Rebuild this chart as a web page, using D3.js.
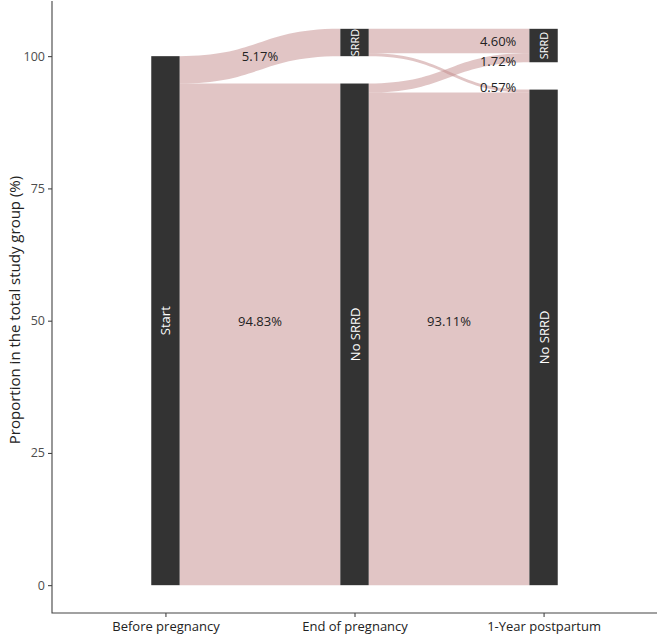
<!DOCTYPE html>
<html><head><meta charset="utf-8">
<script src="https://cdn.jsdelivr.net/npm/d3@7"></script>
<style>body{margin:0;background:#fff}svg{display:block;font-family:"Open Sans",sans-serif}</style>
</head><body><svg id="c" width="660" height="638"></svg>
<script>
// ---- data ----
const columns = ["Before pregnancy", "End of pregnancy", "1-Year postpartum"];
const strataNames = [["Start"], ["No SRRD", "SRRD"], ["No SRRD", "SRRD"]];
const strataValues = [[100], [94.83, 5.17], [93.68, 6.32]];
const stratumGap = 5.17;
const flowFromCol = [0, 0, 1, 1, 1, 1];
const flowFrom = ["Start", "Start", "No SRRD", "No SRRD", "SRRD", "SRRD"];
const flowTo = ["SRRD", "No SRRD", "No SRRD", "SRRD", "No SRRD", "SRRD"];
const flowValues = [5.17, 94.83, 93.11, 1.72, 0.57, 4.60];
const flowLabelNudge = [0, 0, 0, -0.66, 0.7, 0];
const yTicks = [0, 25, 50, 75, 100];

// ---- layout ----
const svg = d3.select("#c");
const L = 52, R = 657, B = 613, T = 1;
const x = d3.scalePoint().domain(columns).range([L, R]).padding(0.6);
const yMax = 100 + stratumGap;
const y = d3.scaleLinear().domain([-yMax * 0.05, yMax * 1.05]).range([B, T]);
const bw = x.step() * 0.15;

// stack strata
const strata = [];
strataNames.forEach((names, ci) => {
  let acc = 0;
  names.forEach((n, i) => {
    const v = strataValues[ci][i];
    strata.push({col: ci, name: n, idx: i, lo: acc, hi: acc + v, outAcc: acc, inAcc: acc});
    acc += v + stratumGap;
  });
});
const getS = (ci, n) => strata.find(s => s.col === ci && s.name === n);

const flows = flowValues.map((v, i) => ({
  v, i, src: getS(flowFromCol[i], flowFrom[i]), tgt: getS(flowFromCol[i] + 1, flowTo[i])
}));
d3.sort(flows, f => f.tgt.idx).forEach(f => { f.s0 = f.src.outAcc; f.src.outAcc += f.v; f.s1 = f.src.outAcc; });
d3.sort(flows, f => f.src.idx).forEach(f => { f.t0 = f.tgt.inAcc; f.tgt.inAcc += f.v; f.t1 = f.tgt.inAcc; });

function flowPath(f) {
  const x0 = x(columns[f.src.col]) + bw / 2, x1 = x(columns[f.tgt.col]) - bw / 2;
  const xm = (x0 + x1) / 2;
  const a0 = y(f.s1), a1 = y(f.t1), b0 = y(f.s0), b1 = y(f.t0);
  return `M${x0},${a0}C${xm},${a0} ${xm},${a1} ${x1},${a1}L${x1},${b1}C${xm},${b1} ${xm},${b0} ${x0},${b0}Z`;
}

svg.append("g").selectAll("path").data(flows).join("path")
  .attr("d", flowPath).attr("fill", "#c48b8b").attr("fill-opacity", 0.5);

svg.append("g").selectAll("rect").data(strata).join("rect")
  .attr("x", d => x(columns[d.col]) - bw / 2).attr("width", bw)
  .attr("y", d => y(d.hi)).attr("height", d => y(d.lo) - y(d.hi))
  .attr("fill", "#333333");

svg.append("g").selectAll("text").data(strata).join("text")
  .attr("transform", d => `translate(${x(columns[d.col])},${y((d.lo + d.hi) / 2)}) rotate(-90)`)
  .attr("text-anchor", "middle").attr("dominant-baseline", "central")
  .attr("fill", "#fff")
  .attr("font-size", d => (y(d.lo) - y(d.hi)) < 50 ? 11 : 13)
  .text(d => d.name);

// flow labels
svg.append("g").selectAll("text").data(flows).join("text")
  .each(function(f) {
    const t = d3.select(this);
    const xs = x(columns[f.src.col]) + bw / 2, xt = x(columns[f.tgt.col]) - bw / 2;
    if (f.v > 50) {
      t.attr("x", (xs + xt) / 2).attr("y", y(50)).attr("text-anchor", "middle");
    } else if (f.src.col === 0) {
      t.attr("x", (xs + xt) / 2).attr("y", y((f.s0 + f.s1 + f.t0 + f.t1) / 4)).attr("text-anchor", "middle");
    } else {
      t.attr("x", xt - 13).attr("y", y((f.t0 + f.t1) / 2 + flowLabelNudge[f.i])).attr("text-anchor", "end");
    }
  })
  .attr("dominant-baseline", "central").attr("font-size", 13).attr("fill", "#222")
  .text(f => f.v.toFixed(2) + "%");

// axes
const ya = svg.append("g").attr("transform", `translate(${L},0)`)
  .call(d3.axisLeft(y).tickValues(yTicks).tickSize(4).tickPadding(3).tickFormat(d3.format("d")));
ya.select(".domain").remove();
ya.selectAll("line").attr("stroke", "#333");
ya.selectAll("text").attr("font-size", 12.5).attr("fill", "#4d4d4d").attr("font-family", "Open Sans, sans-serif");

const xa = svg.append("g").attr("transform", `translate(0,${B})`)
  .call(d3.axisBottom(x).tickSize(4).tickPadding(5));
xa.select(".domain").remove();
xa.selectAll("line").attr("stroke", "#333");
xa.selectAll("text").attr("font-size", 13).attr("fill", "#222").attr("font-family", "Open Sans, sans-serif");

svg.append("path").attr("d", `M${L},${T}V${B}H${R}`).attr("fill", "none").attr("stroke", "#444").attr("stroke-width", 1.1);

svg.append("text").attr("transform", `translate(14,${(T + B) / 2 + 3}) rotate(-90)`)
  .attr("text-anchor", "middle").attr("dominant-baseline", "central")
  .attr("font-size", 15).attr("fill", "#222").text("Proportion in the total study group (%)");
</script></body></html>
